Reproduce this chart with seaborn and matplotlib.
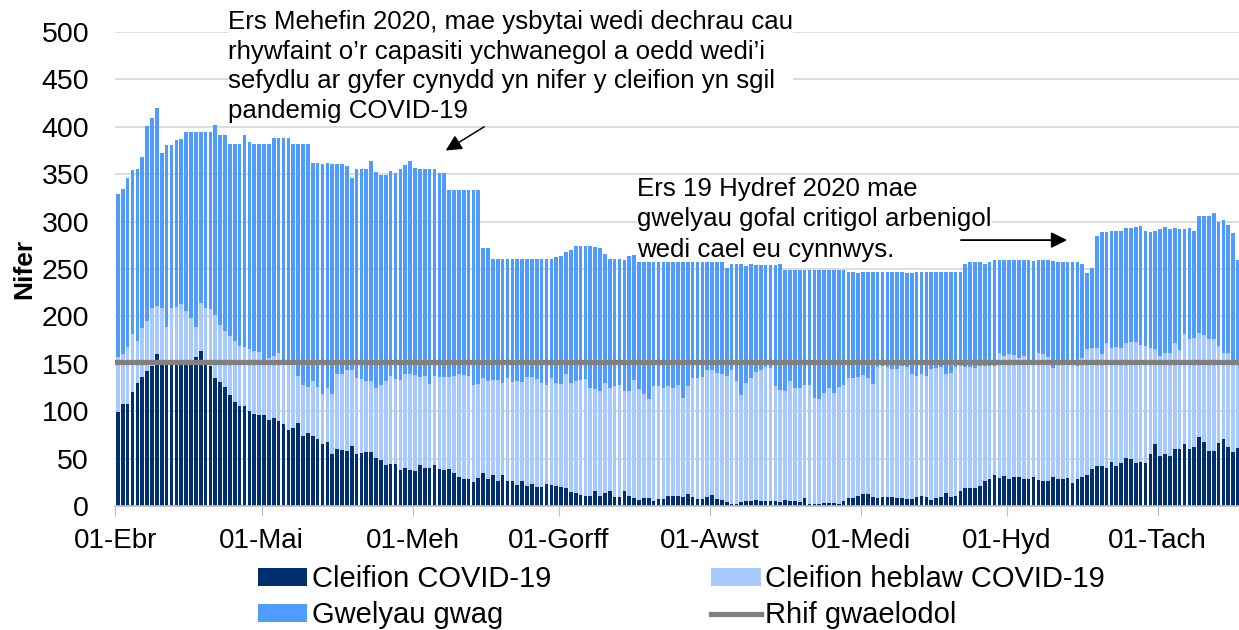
# Stacked daily bed occupancy chart (Welsh labels), drawn as overlapping seaborn bars
import numpy as np
import pandas as pd
import matplotlib
matplotlib.use('Agg')
import matplotlib.pyplot as plt
import seaborn as sns
from matplotlib.patches import Patch
from matplotlib.lines import Line2D

# Daily values, 01 Apr 2020 -> 17 Nov 2020 (231 days)
# total beds (top of each bar)
capacity = [
    329, 334, 346, 354, 356, 368, 401, 409, 420, 372,
    381, 381, 386, 387, 394, 394, 394, 394, 394, 394,
    402, 391, 391, 382, 382, 382, 391, 384, 382, 382,
    382, 382, 388, 388, 388, 388, 382, 382, 382, 382,
    362, 362, 361, 362, 361, 361, 361, 359, 346, 355,
    355, 355, 364, 352, 349, 349, 353, 351, 355, 360,
    364, 357, 355, 355, 355, 355, 351, 351, 333, 333,
    333, 333, 333, 333, 333, 272, 272, 261, 261, 261,
    261, 261, 261, 261, 261, 261, 261, 261, 261, 261,
    263, 264, 268, 270, 274, 274, 274, 274, 273, 272,
    266, 261, 261, 261, 259, 264, 265, 259, 260, 261,
    261, 261, 261, 260, 258, 258, 258, 259, 259, 259,
    258, 258, 259, 259, 257, 251, 255, 255, 255, 253,
    255, 254, 254, 254, 254, 254, 255, 249, 249, 249,
    249, 249, 249, 249, 249, 249, 249, 249, 249, 249,
    247, 247, 246, 247, 247, 247, 247, 247, 247, 247,
    247, 247, 246, 246, 247, 247, 247, 247, 247, 247,
    247, 247, 247, 247, 255, 260, 260, 260, 255, 259,
    259, 259, 259, 259, 259, 259, 259, 259, 258, 259,
    259, 259, 258, 257, 257, 257, 257, 257, 255, 246,
    251, 285, 289, 289, 290, 290, 290, 293, 293, 294,
    295, 290, 289, 290, 292, 294, 292, 293, 292, 292,
    293, 290, 306, 306, 306, 309, 300, 302, 296, 288,
    259,
]

# all patients (COVID + non-COVID), i.e. top of the light blue part
occupied = [
    157, 160, 168, 181, 174, 188, 195, 209, 211, 209,
    189, 209, 210, 213, 206, 198, 189, 214, 209, 208,
    202, 191, 185, 179, 174, 169, 168, 166, 163, 162,
    153, 156, 158, 161, 150, 150, 150, 137, 128, 126,
    132, 126, 118, 125, 118, 139, 139, 144, 144, 135,
    134, 132, 132, 124, 128, 132, 137, 134, 133, 139,
    139, 138, 136, 137, 129, 137, 136, 136, 136, 137,
    139, 138, 137, 128, 129, 135, 132, 133, 133, 130,
    135, 131, 132, 131, 136, 136, 134, 130, 128, 135,
    130, 129, 139, 130, 132, 133, 134, 124, 123, 121,
    130, 125, 127, 128, 121, 121, 133, 123, 118, 113,
    127, 127, 125, 127, 124, 128, 114, 127, 135, 135,
    136, 143, 144, 140, 139, 137, 143, 132, 117, 130,
    135, 141, 144, 147, 146, 127, 122, 121, 132, 125,
    125, 128, 128, 114, 113, 119, 125, 119, 126, 128,
    135, 135, 136, 138, 135, 129, 147, 148, 147, 145,
    145, 148, 147, 139, 137, 139, 137, 145, 146, 147,
    139, 140, 147, 148, 147, 147, 146, 148, 148, 148,
    148, 161, 158, 160, 159, 156, 158, 154, 151, 161,
    160, 157, 146, 152, 152, 152, 154, 148, 156, 166,
    167, 167, 160, 172, 167, 168, 167, 172, 173, 173,
    170, 169, 167, 166, 158, 161, 161, 172, 165, 181,
    176, 177, 183, 180, 176, 176, 169, 161, 161, 154,
    152,
]

# COVID-19 patients
covid = [
    99, 108, 108, 120, 130, 136, 142, 148, 160, 150,
    150, 151, 150, 151, 150, 151, 157, 163, 150, 148,
    135, 131, 126, 117, 110, 105, 106, 100, 97, 96,
    96, 91, 93, 90, 86, 80, 82, 88, 74, 77,
    74, 71, 65, 68, 55, 60, 59, 58, 63, 55,
    56, 57, 57, 51, 49, 43, 44, 44, 38, 40,
    38, 37, 43, 40, 40, 43, 39, 38, 39, 35,
    31, 29, 29, 25, 30, 35, 28, 33, 26, 33,
    26, 26, 22, 26, 21, 23, 20, 20, 23, 22,
    21, 20, 19, 15, 14, 12, 11, 11, 16, 11,
    14, 16, 9, 9, 16, 11, 8, 6, 8, 8,
    5, 7, 7, 11, 11, 11, 9, 13, 9, 7,
    7, 9, 12, 7, 6, 4, 2, 2, 4, 5,
    5, 6, 5, 5, 5, 5, 4, 6, 5, 5,
    4, 8, 2, 2, 2, 3, 3, 3, 2, 5,
    8, 8, 11, 13, 13, 9, 8, 9, 9, 9,
    8, 8, 7, 7, 9, 11, 9, 6, 8, 9,
    14, 9, 11, 16, 19, 19, 19, 21, 26, 28,
    33, 30, 32, 28, 31, 31, 29, 29, 31, 27,
    26, 26, 31, 28, 28, 30, 24, 29, 31, 33,
    39, 42, 42, 40, 46, 42, 45, 51, 50, 45,
    46, 45, 55, 65, 53, 55, 53, 60, 60, 65,
    60, 62, 73, 68, 58, 58, 66, 71, 62, 57,
    61,
]

baseline = 152  # Rhif gwaelodol

month_labels = ['01-Ebr', '01-Mai', '01-Meh', '01-Gorff',
                '01-Awst', '01-Medi', '01-Hyd', '01-Tach']

days = pd.date_range('2020-04-01', periods=len(covid), freq='D')
df = pd.DataFrame({
    'day': days.strftime('%Y-%m-%d'),
    'capacity': capacity,
    'occupied': occupied,
    'covid': covid,
})

col_dark = '#002E6E'
col_light = '#A6C9FF'
col_mid = '#4F9BFF'
col_line = '#808080'

plt.rcParams['font.family'] = ['Liberation Sans', 'DejaVu Sans']

fig = plt.figure(figsize=(12.39, 6.3), dpi=100)
ax = fig.add_axes([0.0932, 0.1968, 0.908, 0.7524])

# empty beds on top, patients in front, covid at the front -> looks stacked
for col, color in [('capacity', col_mid), ('occupied', col_light), ('covid', col_dark)]:
    sns.barplot(data=df, x='day', y=col, color=color, width=0.75,
                saturation=1, errorbar=None, ax=ax, zorder=2)

ax.axhline(baseline, color=col_line, lw=3.8, zorder=3)

ax.set_xlim(-0.5, len(covid) - 0.5)
ax.set_ylim(0, 500)
ax.set_yticks(np.arange(0, 501, 50))
ax.yaxis.grid(True, color='#D9D9D9', lw=1.3, zorder=0)
ax.set_axisbelow(True)

month_pos = [i - 0.5 for i, d in enumerate(days) if d.day == 1]
ax.set_xticks(month_pos)
ax.set_xticklabels(month_labels)
ax.tick_params(axis='x', length=7, color='#BFBFBF', pad=9, labelsize=20)
ax.tick_params(axis='y', length=0, pad=19, labelsize=20.5)

for s in ['top', 'right', 'left']:
    ax.spines[s].set_visible(False)
ax.spines['bottom'].set_color('#BFBFBF')
ax.spines['bottom'].set_linewidth(1.2)

ax.set_xlabel('')
ax.set_ylabel('Nifer', fontsize=19, fontweight='bold', labelpad=4)

# annotations (text boxes in the axes so the arrows can sit on top of them)
ax.text(228 / 1239, 1 - 10 / 630,
        'Ers Mehefin 2020, mae ysbytai wedi dechrau cau\n'
        'rhywfaint o\u2019r capasiti ychwanegol a oedd wedi\u2019i\n'
        'sefydlu ar gyfer cynydd yn nifer y cleifion yn sgil\n'
        'pandemig COVID-19',
        transform=fig.transFigure, ha='left', va='top', fontsize=18.6,
        linespacing=1.29, zorder=4,
        bbox=dict(facecolor='white', edgecolor='none', pad=0))
ax.annotate('', xy=(67.3, 375), xytext=(75.2, 400), zorder=6,
            arrowprops=dict(arrowstyle='-|>', color='black', lw=1.1,
                            mutation_scale=24, shrinkA=0, shrinkB=0))

ax.text(637 / 1239, 1 - 177 / 630,
        'Ers 19 Hydref 2020 mae\n'
        'gwelyau gofal critigol arbenigol\n'
        'wedi cael eu cynnwys.',
        transform=fig.transFigure, ha='left', va='top', fontsize=18.6,
        linespacing=1.33, zorder=4,
        bbox=dict(facecolor='white', edgecolor='none', pad=0))
ax.annotate('', xy=(194.9, 280.5), xytext=(173.1, 280.5), zorder=6,
            arrowprops=dict(arrowstyle='-|>', color='black', lw=1.3,
                            mutation_scale=24, shrinkA=0, shrinkB=0))

handles = [
    Patch(facecolor=col_dark, label='Cleifion COVID-19'),
    Patch(facecolor=col_mid, label='Gwelyau gwag'),
    Patch(facecolor=col_light, label='Cleifion heblaw COVID-19'),
    Line2D([0], [0], color=col_line, lw=3.8, label='Rhif gwaelodol'),
]
fig.legend(handles=handles, ncol=2, loc='upper left',
           bbox_to_anchor=(0.208, 0.103), frameon=False, fontsize=21,
           handlelength=1.7, handleheight=0.6, handletextpad=0.15,
           columnspacing=5.5, labelspacing=0.28, borderpad=0, borderaxespad=0)

fig.savefig('out.png', dpi=100)
